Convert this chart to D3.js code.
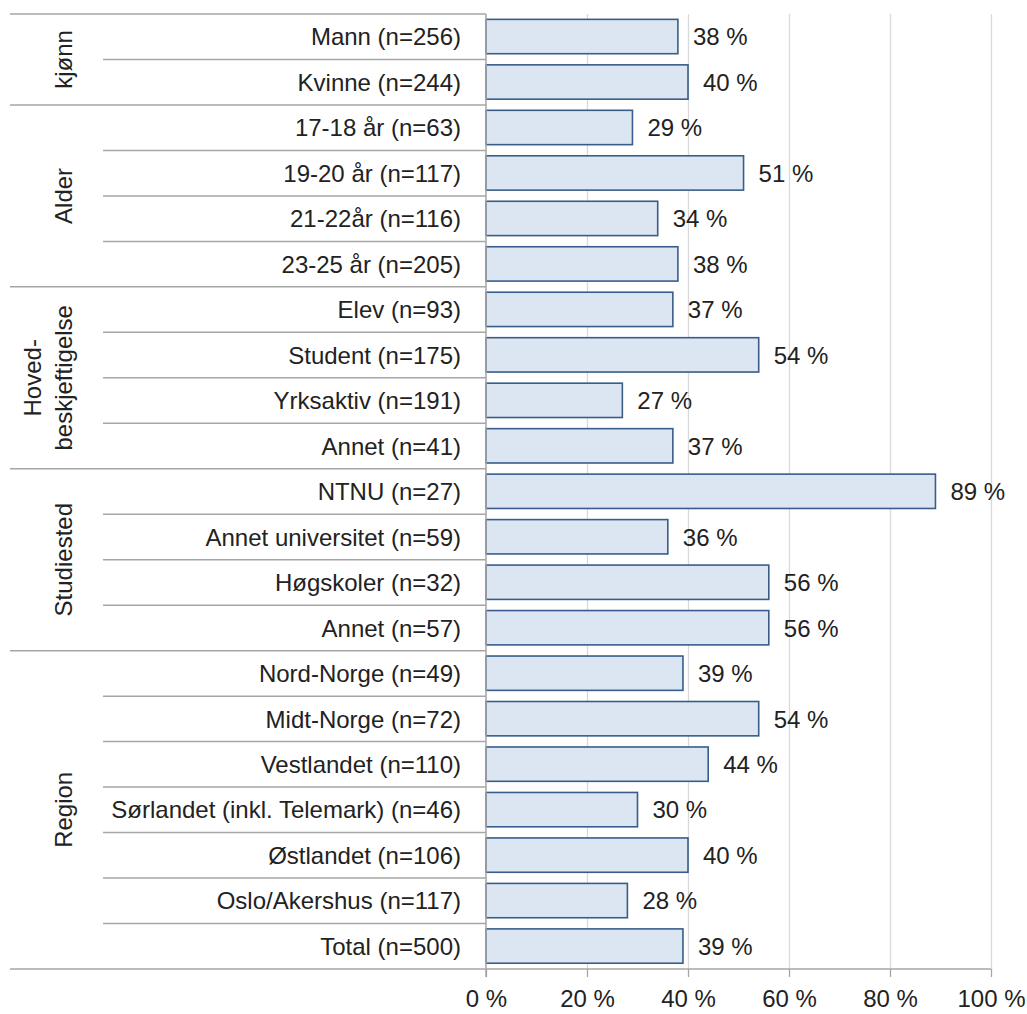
<!DOCTYPE html>
<html>
<head>
<meta charset="utf-8">
<script src="https://cdn.jsdelivr.net/npm/d3@7"></script>
<style>
  html, body { margin: 0; padding: 0; background: #fff; }
  svg { display: block; }
  text { font-family: "Liberation Sans", Arial, sans-serif; fill: #222; }
</style>
</head>
<body>
<svg id="chart" width="1027" height="1014"></svg>
<script>
// ---- data ----
const categories = [
  "Mann (n=256)", "Kvinne (n=244)",
  "17-18 år (n=63)", "19-20 år (n=117)", "21-22år (n=116)", "23-25 år (n=205)",
  "Elev (n=93)", "Student (n=175)", "Yrksaktiv (n=191)", "Annet (n=41)",
  "NTNU (n=27)", "Annet universitet (n=59)", "Høgskoler (n=32)", "Annet (n=57)",
  "Nord-Norge (n=49)", "Midt-Norge (n=72)", "Vestlandet (n=110)",
  "Sørlandet (inkl. Telemark) (n=46)", "Østlandet (n=106)", "Oslo/Akershus (n=117)",
  "Total (n=500)"
];
const values = [38, 40, 29, 51, 34, 38, 37, 54, 27, 37, 89, 36, 56, 56, 39, 54, 44, 30, 40, 28, 39];
const groupNames = [["kjønn"], ["Alder"], ["Hoved-", "beskjeftigelse"], ["Studiested"], ["Region"]];
const groupSizes = [2, 4, 4, 4, 7];
const xTicks = [0, 20, 40, 60, 80, 100];

// ---- layout ----
(function () {
const svg = d3.select("#chart");
const fontSize = 24;
const pL = 486, pR = 991, pT = 14, pB = 969;
const outerLeft = 10, innerLeft = 103;
const lineColor = "#a6a6a6";

const x = d3.scaleLinear().domain([0, 100]).range([pL, pR]);
const y = d3.scaleBand().domain(categories).range([pT, pB]).padding(0);
const bw = y.bandwidth();

// gridlines
const grid = svg.append("g").attr("transform", `translate(0,${pB})`)
  .call(d3.axisBottom(x).tickValues(xTicks.slice(1)).tickSize(-(pB - pT)).tickFormat(""));
grid.select(".domain").remove();
grid.selectAll("line").attr("stroke", "#d9d9d9").attr("stroke-width", 1.3);

// group start indices
const groupStarts = [];
let acc = 0;
groupSizes.forEach(s => { groupStarts.push(acc); acc += s; });

// row separator lines (left label area)
const rowLines = svg.append("g");
categories.forEach((c, i) => {
  const isGroupStart = groupStarts.includes(i);
  rowLines.append("line")
    .attr("x1", isGroupStart ? outerLeft : innerLeft).attr("x2", pL)
    .attr("y1", y(c)).attr("y2", y(c))
    .attr("stroke", lineColor).attr("stroke-width", 1.5);
});

// bars
svg.append("g").selectAll("rect").data(categories).join("rect")
  .attr("x", x(0))
  .attr("y", d => y(d) + bw * 0.118)
  .attr("width", (d, i) => x(values[i]) - x(0))
  .attr("height", bw * 0.755)
  .attr("fill", "#dce6f2")
  .attr("stroke", "#385d8a")
  .attr("stroke-width", 1.6);

// value labels
svg.append("g").selectAll("text").data(categories).join("text")
  .attr("x", (d, i) => x(values[i]) + 15)
  .attr("y", d => y(d) + bw / 2)
  .attr("dy", "0.36em")
  .attr("font-size", fontSize)
  .text((d, i) => values[i] + " %");

// category labels
svg.append("g").selectAll("text").data(categories).join("text")
  .attr("x", pL - 25)
  .attr("y", d => y(d) + bw / 2)
  .attr("dy", "0.36em")
  .attr("text-anchor", "end")
  .attr("font-size", fontSize)
  .text(d => d);

// group labels
groupNames.forEach((lines, gi) => {
  const s = groupStarts[gi], n = groupSizes[gi];
  const cy = (y(categories[s]) + y(categories[s + n - 1]) + bw) / 2;
  const t = svg.append("text")
    .attr("transform", `translate(72,${cy}) rotate(-90)`)
    .attr("text-anchor", "middle")
    .attr("font-size", fontSize);
  lines.forEach((ln, li) => {
    t.append("tspan").attr("x", 0).attr("y", -(lines.length - 1 - li) * 31).text(ln);
  });
});

// x axis
const xAxis = svg.append("g").attr("transform", `translate(0,${pB})`)
  .call(d3.axisBottom(x).tickValues(xTicks).tickSize(8).tickPadding(13).tickFormat(d => d + " %"));
xAxis.select(".domain").remove();
xAxis.selectAll("line").attr("stroke", lineColor).attr("stroke-width", 1.3);
xAxis.selectAll("text").attr("font-size", fontSize).attr("font-family", "Liberation Sans, Arial, sans-serif").attr("fill", "#222");

// baseline across full width
svg.append("line").attr("x1", outerLeft).attr("x2", pR).attr("y1", pB).attr("y2", pB)
  .attr("stroke", lineColor).attr("stroke-width", 1.5);
// vertical axis line
svg.append("line").attr("x1", pL).attr("x2", pL).attr("y1", pT).attr("y2", pB + 8)
  .attr("stroke", lineColor).attr("stroke-width", 1.5);
})();
</script>
</body>
</html>
